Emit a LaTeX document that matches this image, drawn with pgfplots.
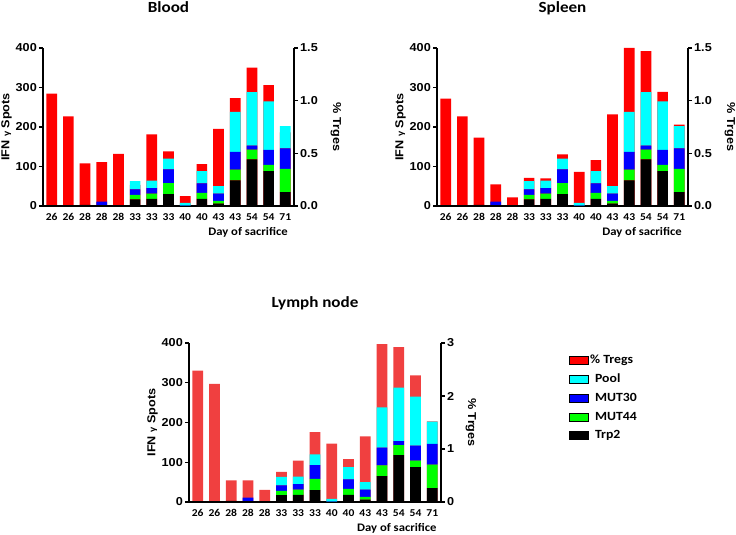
\documentclass[border=0pt]{standalone}
\usepackage{fontspec}
\usepackage{pgfplots}
\usepackage{pgfplotstable}
\pgfplotsset{compat=1.18}
\newfontfamily\arialb{Liberation Sans}[FakeStretch=1.1]
\newfontfamily\calb{Carlito}[FakeStretch=1.1]
\definecolor{cTreg}{RGB}{255,0,0}
\definecolor{cTregL}{RGB}{240,64,64}
\definecolor{cPool}{RGB}{0,255,255}
\definecolor{cMthirty}{RGB}{0,0,255}
\definecolor{cMfortyfour}{RGB}{0,255,0}
\definecolor{cTrp}{RGB}{0,0,0}

\pgfplotstableread{
x trp m44 m30 pool
0 0 0 0 0
1 0 0 0 0
2 3 0 0 0
3 2 0 9 0
4 0 0 0 0
5 17 11 14 21
6 18 13 14 19
7 30 28 35 27
8 0 0 1 7
9 18 15 24 31
10 6 7 18 19
11 65 27 45 101
12 118 25 10 135
13 88 16 38 123
14 35 59 52 56
}\ifn

\pgfplotstableread{
x blood spleen lymph
0 1.067 1.020 2.48
1 0.851 0.851 2.23
2 0.405 0.649 0.41
3 0.416 0.206 0.41
4 0.495 0.083 0.23
5 0.200 0.266 0.57
6 0.679 0.263 0.78
7 0.518 0.491 1.32
8 0.094 0.323 1.10
9 0.398 0.435 0.81
10 0.731 0.870 1.24
11 1.024 1.500 2.98
12 1.313 1.470 2.92
13 1.148 1.084 2.39
14 0.700 0.773 1.52
}\tregs

\pgfplotsset{
  base/.style={scale only axis, width=251pt, height=158pt,
    xmin=-0.52, xmax=14.52, ymin=0,
    axis line style={line width=1.4pt},
    every tick/.style={line width=1.4pt, black},
    major tick length=4pt, tick align=outside,
    /pgf/number format/assume math mode=true,
    tick label style={font=\arialb\bfseries\fontsize{11.5}{13}\selectfont},
    yticklabel style={inner sep=2pt},
    bar width=10.7pt, clip=false},
  treg/.style={base, axis x line=none, axis y line*=right, ybar,
    every axis y label/.style={at={(axis description cs:#1,0.5)}, anchor=center, rotate=-90,
      font=\arialb\bfseries\fontsize{11.5}{13}\selectfont},
    ylabel={\% Trges}},
  spots/.style={base, ymax=400, ytick={0,100,200,300,400},
    axis y line*=left, axis x line*=bottom, ybar stacked,
    xtick={0,...,14},
    xticklabels={26,26,28,28,28,33,33,33,40,40,43,43,54,54,71},
    x tick style={draw=none},
    xticklabel style={font=\calb\bfseries\fontsize{10.5}{12}\selectfont, yshift=0pt},
    every axis y label/.style={at={(axis description cs:-0.145,0.5)}, anchor=center, rotate=90,
      font=\arialb\bfseries\fontsize{11.5}{13}\selectfont},
    ylabel={IFN {\fontsize{8.5}{9}\selectfont γ} Spots},
    every axis x label/.style={at={(axis description cs:#1,0)}, anchor=center, yshift=-26pt,
      font=\calb\bfseries\fontsize{11.5}{13}\selectfont},
    xlabel={Day of sacrifice},
    every axis title/.style={at={(axis description cs:0.5,1)}, anchor=base, yshift=35pt,
      font=\calb\bfseries\fontsize{15.5}{18}\selectfont}},
  segs/.style={draw=none}
}

\begin{document}
\begin{tikzpicture}[x=1pt,y=1pt]
\path[use as bounding box] (0,0) rectangle (736,535);

% ---------- Blood ----------
\begin{axis}[treg=1.167, at={(43pt,329pt)}, anchor=south west, ymax=1.5,
  ytick={0,0.5,1,1.5},
  yticklabel style={/pgf/number format/.cd, fixed, fixed zerofill, precision=1}]
\addplot[fill=cTreg, draw=none] table[x=x, y=blood] {\tregs};
\end{axis}
\begin{axis}[spots=0.817, at={(43pt,329pt)}, anchor=south west, title={Blood}]
\addplot[fill=cTrp, segs] table[x=x, y=trp] {\ifn};
\addplot[fill=cMfortyfour, segs] table[x=x, y=m44] {\ifn};
\addplot[fill=cMthirty, segs] table[x=x, y=m30] {\ifn};
\addplot[fill=cPool, segs] table[x=x, y=pool] {\ifn};
\end{axis}

% ---------- Spleen ----------
\begin{axis}[treg=1.167, at={(437pt,329pt)}, anchor=south west, ymax=1.5,
  ytick={0,0.5,1,1.5},
  yticklabel style={/pgf/number format/.cd, fixed, fixed zerofill, precision=1}]
\addplot[fill=cTreg, draw=none] table[x=x, y=spleen] {\tregs};
\end{axis}
\begin{axis}[spots=0.817, at={(437pt,329pt)}, anchor=south west, title={Spleen}]
\addplot[fill=cTrp, segs] table[x=x, y=trp] {\ifn};
\addplot[fill=cMfortyfour, segs] table[x=x, y=m44] {\ifn};
\addplot[fill=cMthirty, segs] table[x=x, y=m30] {\ifn};
\addplot[fill=cPool, segs] table[x=x, y=pool] {\ifn};
\end{axis}

% ---------- Lymph node ----------
\begin{axis}[treg=1.119, at={(189pt,33pt)}, anchor=south west, width=252pt, height=159pt,
  ymax=3, ytick={0,1,2,3}]
\addplot[fill=cTregL, draw=none] table[x=x, y=lymph] {\tregs};
\end{axis}
\begin{axis}[spots=0.825, at={(189pt,33pt)}, anchor=south west, width=252pt, height=159pt,
  title={Lymph node},
  legend style={at={(axis description cs:1.508,0.935)}, anchor=north west, draw=none, fill=none,
    font=\calb\bfseries\fontsize{12.5}{14}\selectfont, row sep=6pt, inner sep=0pt,
    nodes={inner sep=1.5pt, anchor=west}},
  legend cell align=left,
  legend image code/.code={\fill[#1] (0pt,-4pt) rectangle (19pt,4pt);}]
\addplot[fill=cTrp, segs, forget plot] table[x=x, y=trp] {\ifn};
\addplot[fill=cMfortyfour, segs, forget plot] table[x=x, y=m44] {\ifn};
\addplot[fill=cMthirty, segs, forget plot] table[x=x, y=m30] {\ifn};
\addplot[fill=cPool, segs, forget plot] table[x=x, y=pool] {\ifn};
\addlegendimage{fill=cTreg}
\addlegendentry{\% Tregs}
\addlegendimage{fill=cPool}
\addlegendentry{\hspace{5pt}Pool}
\addlegendimage{fill=cMthirty}
\addlegendentry{\hspace{5pt}MUT30}
\addlegendimage{fill=cMfortyfour}
\addlegendentry{\hspace{5pt}MUT44}
\addlegendimage{fill=cTrp}
\addlegendentry{\hspace{5pt}Trp2}
\end{axis}
\end{tikzpicture}
\end{document}
